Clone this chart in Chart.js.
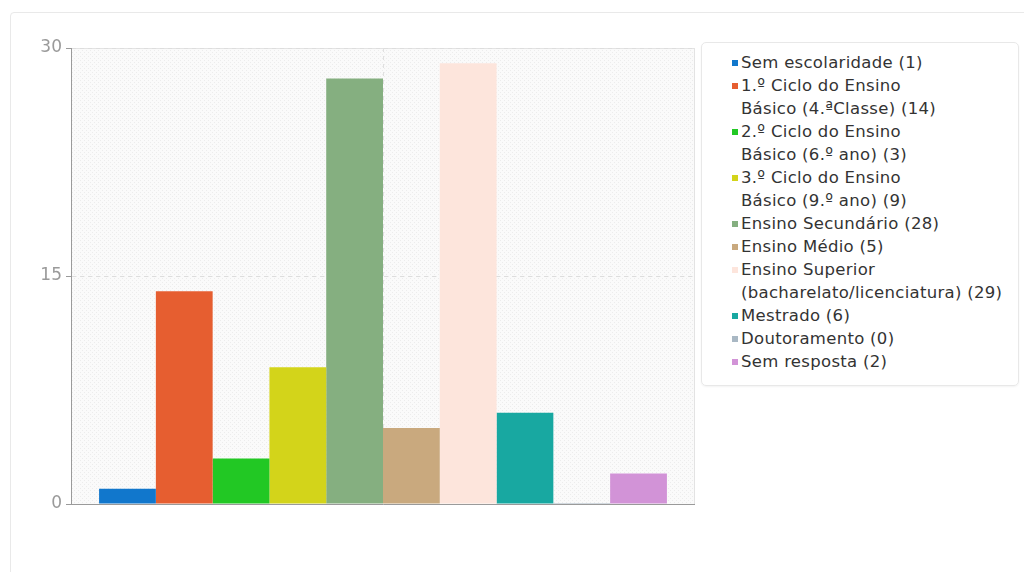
<!DOCTYPE html>
<html>
<head>
<meta charset="utf-8">
<script src="https://cdn.jsdelivr.net/npm/chart.js@4/dist/chart.umd.min.js"></script>
<style>
  body { margin: 0; background: #fff; font-family: 'DejaVu Sans', sans-serif; overflow: hidden; }
  #card { position: absolute; left: 10px; top: 12px; width: 1040px; height: 600px; border: 1px solid #e9e9e9; border-radius: 4px; }
  #wrap { position: absolute; left: 0; top: 0; width: 695px; height: 572px; }
  #legend { position: absolute; left: 701px; top: 42px; width: 318px; height: 344px; box-sizing: border-box;
            border: 1px solid #e8e8e8; border-radius: 5px; box-shadow: 0 1px 2px rgba(0,0,0,0.05);
            padding: 8px 0 0 39px; font-size: 16.5px; letter-spacing: 0.3px; line-height: 23px; color: #333; }
  #legend .item { position: relative; white-space: nowrap; }
  #legend .box { position: absolute; left: -9px; top: 9px; width: 6px; height: 6px; }
</style>
</head>
<body>
<div id="card"></div>
<div id="wrap"><canvas id="escolaridade"></canvas></div>
<div id="legend"></div>
<script>
// habilitações literárias - número de respostas
var niveis = [
  ['Sem escolaridade'],
  ['1.º Ciclo do Ensino', 'Básico (4.ªClasse)'],
  ['2.º Ciclo do Ensino', 'Básico (6.º ano)'],
  ['3.º Ciclo do Ensino', 'Básico (9.º ano)'],
  ['Ensino Secundário'],
  ['Ensino Médio'],
  ['Ensino Superior', '(bacharelato/licenciatura)'],
  ['Mestrado'],
  ['Doutoramento'],
  ['Sem resposta']
];
var respostas = [1, 14, 3, 9, 28, 5, 29, 6, 0, 2];
var cores = ['#1177cc', '#e65e30', '#22c824', '#d3d41a', '#85af80', '#c9a97e',
             '#fde5dc', '#18a8a1', '#a9b8c4', '#d293d7'];
var yTicks = [0, 15, 30];

// fundo tracejado da área do gráfico
function hatchPattern(ctx) {
  var c = document.createElement('canvas');
  c.width = 4; c.height = 4;
  var p = c.getContext('2d');
  p.fillStyle = '#fafafa';
  p.fillRect(0, 0, 4, 4);
  p.fillStyle = '#ececec';
  p.fillRect(0, 0, 1, 1);
  p.fillRect(2, 2, 1, 1);
  return ctx.createPattern(c, 'repeat');
}

var plotBackground = {
  id: 'plotBackground',
  beforeDraw: function(chart) {
    var ctx = chart.ctx, a = chart.chartArea;
    ctx.save();
    ctx.fillStyle = hatchPattern(ctx);
    ctx.fillRect(a.left, a.top, a.right - a.left, a.bottom - a.top);
    ctx.strokeStyle = '#e3e3e3';
    ctx.lineWidth = 1;
    ctx.strokeRect(a.left + 0.5, a.top + 0.5, a.right - a.left - 1, a.bottom - a.top);
    ctx.restore();
  }
};

var datasets = niveis.map(function(nome, i) {
  return {
    label: nome.join(' '),
    data: [respostas[i]],
    backgroundColor: cores[i],
    borderWidth: 0,
    minBarLength: respostas[i] === 0 ? 1 : 0
  };
});

var ctx = document.getElementById('escolaridade').getContext('2d');
var chart = new Chart(ctx, {
  type: 'bar',
  data: { labels: [''], datasets: datasets },
  options: {
    responsive: true,
    maintainAspectRatio: false,
    animation: false,
    layout: { padding: { top: 48, bottom: 68, left: 0, right: 0 } },
    datasets: { bar: { categoryPercentage: 0.91, barPercentage: 1 } },
    plugins: { legend: { display: false }, tooltip: { enabled: false } },
    scales: {
      x: {
        ticks: { display: false },
        grid: { offset: false, drawTicks: false, color: '#e0e0e0' },
        border: { color: '#9a9a9a', dash: [4, 4] },
        afterFit: function(scale) { scale.height = 0; }
      },
      y: {
        min: 0,
        max: 30,
        afterBuildTicks: function(scale) {
          scale.ticks = yTicks.map(function(v) { return { value: v }; });
        },
        ticks: { color: '#9a9a9a', padding: 4, font: { family: 'DejaVu Sans', size: 17 } },
        grid: { color: '#dddddd', tickColor: '#9a9a9a', tickLength: 5 },
        border: { color: '#9a9a9a', dash: [4, 4] },
        afterFit: function(scale) { scale.width = 71; }
      }
    }
  },
  plugins: [plotBackground]
});

// legenda com o total de respostas de cada nível
var legend = document.getElementById('legend');
niveis.forEach(function(nome, i) {
  var item = document.createElement('div');
  item.className = 'item';
  var box = document.createElement('span');
  box.className = 'box';
  box.style.background = cores[i];
  item.appendChild(box);
  nome.forEach(function(linha, j) {
    var d = document.createElement('div');
    d.textContent = j === nome.length - 1 ? linha + ' (' + respostas[i] + ')' : linha;
    item.appendChild(d);
  });
  legend.appendChild(item);
});
</script>
</body>
</html>
